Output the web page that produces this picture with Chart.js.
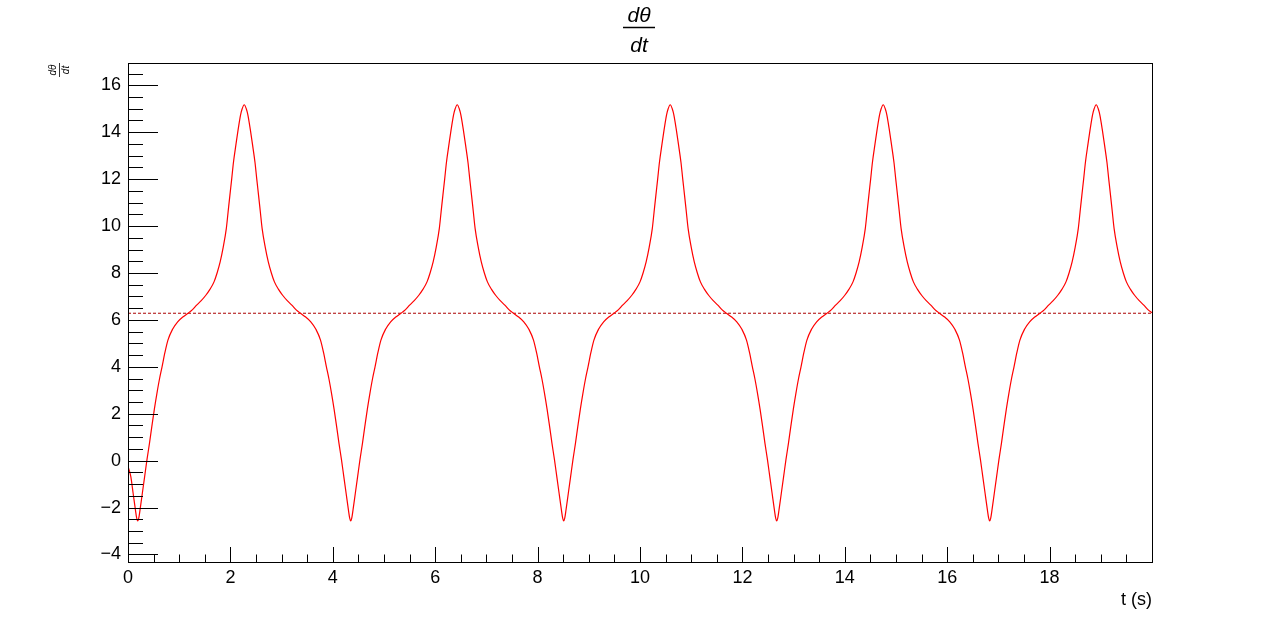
<!DOCTYPE html>
<html>
<head>
<meta charset="utf-8">
<script src="https://cdn.jsdelivr.net/npm/chart.js@4"></script>
<style>
  html, body { margin: 0; padding: 0; background: #ffffff; }
  #wrap { width: 1280px; height: 626px; }
</style>
</head>
<body>
<div id="wrap"><canvas id="c" width="1280" height="626"></canvas></div>
<script>
// ---- Data ----
const tSeconds = [
  0, 0.055, 0.1, 0.145, 0.17,
  0.19, 0.21, 0.235, 0.28, 0.325, 0.37, 0.42, 0.465, 0.515, 0.565, 0.615, 0.665, 0.72, 0.78, 0.87, 0.97, 1.07, 1.17, 1.26, 1.34, 1.43, 1.52, 1.60, 1.68, 1.74, 1.80, 1.86, 1.92, 1.955, 1.99, 2.025, 2.06, 2.11, 2.153, 2.2, 2.23, 2.27,
  2.31, 2.34, 2.387, 2.43, 2.48, 2.515, 2.55, 2.585, 2.62, 2.68, 2.74, 2.80, 2.86, 2.94, 3.02, 3.11, 3.20, 3.28, 3.37, 3.47, 3.57, 3.67, 3.76, 3.82, 3.875, 3.925, 3.975, 4.025, 4.075, 4.12, 4.17, 4.215, 4.26, 4.305, 4.33,
  4.35, 4.37, 4.395, 4.44, 4.485, 4.53, 4.58, 4.625, 4.675, 4.725, 4.775, 4.825, 4.88, 4.94, 5.03, 5.13, 5.23, 5.33, 5.42, 5.5, 5.59, 5.68, 5.76, 5.84, 5.9, 5.96, 6.02, 6.08, 6.115, 6.15, 6.185, 6.22, 6.27, 6.313, 6.36, 6.39, 6.43,
  6.47, 6.5, 6.547, 6.59, 6.64, 6.675, 6.71, 6.745, 6.78, 6.84, 6.9, 6.96, 7.02, 7.1, 7.18, 7.27, 7.36, 7.44, 7.53, 7.63, 7.73, 7.83, 7.92, 7.98, 8.035, 8.085, 8.135, 8.185, 8.235, 8.28, 8.33, 8.375, 8.42, 8.465, 8.49,
  8.51, 8.53, 8.555, 8.6, 8.645, 8.69, 8.74, 8.785, 8.835, 8.885, 8.935, 8.985, 9.04, 9.1, 9.19, 9.29, 9.39, 9.49, 9.58, 9.66, 9.75, 9.84, 9.92, 10.0, 10.06, 10.12, 10.18, 10.24, 10.275, 10.31, 10.345, 10.38, 10.43, 10.473, 10.52, 10.55, 10.59,
  10.63, 10.66, 10.707, 10.75, 10.8, 10.835, 10.87, 10.905, 10.94, 11.0, 11.06, 11.12, 11.18, 11.26, 11.34, 11.43, 11.52, 11.6, 11.69, 11.79, 11.89, 11.99, 12.08, 12.14, 12.195, 12.245, 12.295, 12.345, 12.395, 12.44, 12.49, 12.535, 12.58, 12.625, 12.65,
  12.67, 12.69, 12.715, 12.76, 12.805, 12.85, 12.9, 12.945, 12.995, 13.045, 13.095, 13.145, 13.2, 13.26, 13.35, 13.45, 13.55, 13.65, 13.74, 13.82, 13.91, 14.0, 14.08, 14.16, 14.22, 14.28, 14.34, 14.4, 14.435, 14.47, 14.505, 14.54, 14.59, 14.633, 14.68, 14.71, 14.75,
  14.79, 14.82, 14.867, 14.91, 14.96, 14.995, 15.03, 15.065, 15.1, 15.16, 15.22, 15.28, 15.34, 15.42, 15.5, 15.59, 15.68, 15.76, 15.85, 15.95, 16.05, 16.15, 16.24, 16.3, 16.355, 16.405, 16.455, 16.505, 16.555, 16.6, 16.65, 16.695, 16.74, 16.785, 16.81,
  16.83, 16.85, 16.875, 16.92, 16.965, 17.01, 17.06, 17.105, 17.155, 17.205, 17.255, 17.305, 17.36, 17.42, 17.51, 17.61, 17.71, 17.81, 17.9, 17.98, 18.07, 18.16, 18.24, 18.32, 18.38, 18.44, 18.5, 18.56, 18.595, 18.63, 18.665, 18.7, 18.75, 18.793, 18.84, 18.87, 18.91,
  18.95, 18.98, 19.027, 19.07, 19.12, 19.155, 19.19, 19.225, 19.26, 19.32, 19.38, 19.44, 19.5, 19.58, 19.66, 19.75, 19.84, 19.92, 20.0
];

const dThetaDt = [
  -0.25, -0.68, -1.39, -2.1, -2.45,
  -2.57, -2.45, -2.1, -1.39, -0.68, 0.03, 0.75, 1.45, 2.2, 2.87, 3.48, 4.0, 4.6, 5.14, 5.6, 5.92, 6.12, 6.28, 6.44, 6.63, 6.82, 7.05, 7.3, 7.62, 8.0, 8.47, 9.1, 9.89, 10.6, 11.31, 12.0, 12.72, 13.5, 14.14, 14.75, 15.0, 15.17,
  15.0, 14.75, 14.14, 13.5, 12.72, 12.0, 11.31, 10.6, 9.89, 9.1, 8.47, 8.0, 7.62, 7.3, 7.05, 6.82, 6.63, 6.44, 6.28, 6.12, 5.92, 5.6, 5.14, 4.6, 4.0, 3.48, 2.87, 2.2, 1.45, 0.75, 0.03, -0.68, -1.39, -2.1, -2.45,
  -2.57, -2.45, -2.1, -1.39, -0.68, 0.03, 0.75, 1.45, 2.2, 2.87, 3.48, 4.0, 4.6, 5.14, 5.6, 5.92, 6.12, 6.28, 6.44, 6.63, 6.82, 7.05, 7.3, 7.62, 8.0, 8.47, 9.1, 9.89, 10.6, 11.31, 12.0, 12.72, 13.5, 14.14, 14.75, 15.0, 15.17,
  15.0, 14.75, 14.14, 13.5, 12.72, 12.0, 11.31, 10.6, 9.89, 9.1, 8.47, 8.0, 7.62, 7.3, 7.05, 6.82, 6.63, 6.44, 6.28, 6.12, 5.92, 5.6, 5.14, 4.6, 4.0, 3.48, 2.87, 2.2, 1.45, 0.75, 0.03, -0.68, -1.39, -2.1, -2.45,
  -2.57, -2.45, -2.1, -1.39, -0.68, 0.03, 0.75, 1.45, 2.2, 2.87, 3.48, 4.0, 4.6, 5.14, 5.6, 5.92, 6.12, 6.28, 6.44, 6.63, 6.82, 7.05, 7.3, 7.62, 8.0, 8.47, 9.1, 9.89, 10.6, 11.31, 12.0, 12.72, 13.5, 14.14, 14.75, 15.0, 15.17,
  15.0, 14.75, 14.14, 13.5, 12.72, 12.0, 11.31, 10.6, 9.89, 9.1, 8.47, 8.0, 7.62, 7.3, 7.05, 6.82, 6.63, 6.44, 6.28, 6.12, 5.92, 5.6, 5.14, 4.6, 4.0, 3.48, 2.87, 2.2, 1.45, 0.75, 0.03, -0.68, -1.39, -2.1, -2.45,
  -2.57, -2.45, -2.1, -1.39, -0.68, 0.03, 0.75, 1.45, 2.2, 2.87, 3.48, 4.0, 4.6, 5.14, 5.6, 5.92, 6.12, 6.28, 6.44, 6.63, 6.82, 7.05, 7.3, 7.62, 8.0, 8.47, 9.1, 9.89, 10.6, 11.31, 12.0, 12.72, 13.5, 14.14, 14.75, 15.0, 15.17,
  15.0, 14.75, 14.14, 13.5, 12.72, 12.0, 11.31, 10.6, 9.89, 9.1, 8.47, 8.0, 7.62, 7.3, 7.05, 6.82, 6.63, 6.44, 6.28, 6.12, 5.92, 5.6, 5.14, 4.6, 4.0, 3.48, 2.87, 2.2, 1.45, 0.75, 0.03, -0.68, -1.39, -2.1, -2.45,
  -2.57, -2.45, -2.1, -1.39, -0.68, 0.03, 0.75, 1.45, 2.2, 2.87, 3.48, 4.0, 4.6, 5.14, 5.6, 5.92, 6.12, 6.28, 6.44, 6.63, 6.82, 7.05, 7.3, 7.62, 8.0, 8.47, 9.1, 9.89, 10.6, 11.31, 12.0, 12.72, 13.5, 14.14, 14.75, 15.0, 15.17,
  15.0, 14.75, 14.14, 13.5, 12.72, 12.0, 11.31, 10.6, 9.89, 9.1, 8.47, 8.0, 7.62, 7.3, 7.05, 6.82, 6.63, 6.44, 6.3
];

const meanLineT = [0, 20];
const meanLineValue = [6.2832, 6.2832];

const xTickValues = [0, 2, 4, 6, 8, 10, 12, 14, 16, 18];
const yTickValues = [-4, -2, 0, 2, 4, 6, 8, 10, 12, 14, 16];

const X_MIN = 0, X_MAX = 20;
const Y_MIN = -4.32, Y_MAX = 16.95;

// ---- Build chart ----
const curvePoints = tSeconds.map((t, i) => ({ x: t, y: dThetaDt[i] }));
const meanPoints = meanLineT.map((t, i) => ({ x: t, y: meanLineValue[i] }));

const FONT = '"Liberation Sans", Arial, Helvetica, sans-serif';
const fmtNum = v => (v < 0 ? '\u2212' + Math.abs(v) : String(v));

const rootStyle = {
  id: 'rootStyle',
  afterDraw(chart) {
    const ctx = chart.ctx;
    const a = chart.chartArea;
    const xs = chart.scales.x, ys = chart.scales.y;
    ctx.save();
    ctx.strokeStyle = '#000';
    ctx.lineWidth = 1;
    // frame
    ctx.strokeRect(Math.round(a.left) + 0.5, Math.round(a.top) + 0.5,
                   Math.round(a.right - a.left), Math.round(a.bottom - a.top));
    ctx.beginPath();
    // y ticks (inside frame)
    for (let v = -4; v <= 16.9; v += 0.5) {
      const py = Math.round(ys.getPixelForValue(v)) + 0.5;
      const major = Math.abs(v / 2 - Math.round(v / 2)) < 1e-6;
      const len = major ? 30 : 15;
      ctx.moveTo(a.left, py);
      ctx.lineTo(a.left + len, py);
    }
    // x ticks (inside frame)
    for (let v = 0; v < 20; v += 0.5) {
      const px = Math.round(xs.getPixelForValue(v)) + 0.5;
      const major = Math.abs(v / 2 - Math.round(v / 2)) < 1e-6;
      const len = major ? 15 : 7.5;
      ctx.moveTo(px, a.bottom);
      ctx.lineTo(px, a.bottom - len);
    }
    ctx.stroke();

    // main title: fraction d(theta)/dt
    ctx.fillStyle = '#000';
    ctx.textAlign = 'center';
    ctx.textBaseline = 'alphabetic';
    ctx.font = 'italic 21px ' + FONT;
    ctx.fillText('d\u03B8', 639, 22);
    ctx.fillText('dt', 639, 52);
    ctx.beginPath();
    ctx.lineWidth = 1.5;
    ctx.moveTo(623, 27.5);
    ctx.lineTo(655, 27.5);
    ctx.stroke();

    // y axis title: small rotated fraction
    ctx.save();
    ctx.translate(59, 70);
    ctx.rotate(-Math.PI / 2);
    ctx.font = 'italic 10px ' + FONT;
    ctx.textAlign = 'center';
    ctx.fillText('d\u03B8', 0, -3);
    ctx.fillText('dt', 0, 10);
    ctx.beginPath();
    ctx.lineWidth = 0.8;
    ctx.moveTo(-7, 0.5);
    ctx.lineTo(7, 0.5);
    ctx.stroke();
    ctx.restore();

    // x axis title
    ctx.font = '18px ' + FONT;
    ctx.textAlign = 'right';
    ctx.fillText('t (s)', 1152, 605);
    ctx.restore();
  }
};

new Chart(document.getElementById('c'), {
  type: 'line',
  data: {
    datasets: [
      {
        data: curvePoints,
        borderColor: 'rgb(255,0,0)',
        borderWidth: 1.2,
        pointRadius: 0,
        fill: false,
        cubicInterpolationMode: 'monotone'
      },
      {
        data: meanPoints,
        borderColor: 'rgb(170,0,0)',
        borderWidth: 1,
        borderDash: [3, 2],
        pointRadius: 0,
        fill: false,
        tension: 0
      }
    ]
  },
  options: {
    responsive: false,
    animation: false,
    devicePixelRatio: 1,
    layout: { padding: { top: 63, right: 128, left: 0, bottom: 0 } },
    plugins: { legend: { display: false }, tooltip: { enabled: false }, title: { display: false } },
    scales: {
      x: {
        type: 'linear',
        min: X_MIN, max: X_MAX,
        border: { display: false },
        grid: { display: false, drawTicks: false },
        afterBuildTicks: s => { s.ticks = xTickValues.map(v => ({ value: v })); },
        afterFit: s => { s.height = 64; },
        ticks: {
          autoSkip: false, maxRotation: 0, padding: 5,
          color: '#000',
          font: { family: FONT, size: 18 },
          callback: v => fmtNum(v)
        }
      },
      y: {
        type: 'linear',
        min: Y_MIN, max: Y_MAX,
        border: { display: false },
        grid: { display: false, drawTicks: false },
        afterBuildTicks: s => { s.ticks = yTickValues.map(v => ({ value: v })); },
        afterFit: s => { s.width = 128; },
        ticks: {
          autoSkip: false, padding: 7,
          color: '#000',
          font: { family: FONT, size: 18 },
          callback: v => fmtNum(v)
        }
      }
    }
  },
  plugins: [rootStyle]
});
</script>
</body>
</html>
